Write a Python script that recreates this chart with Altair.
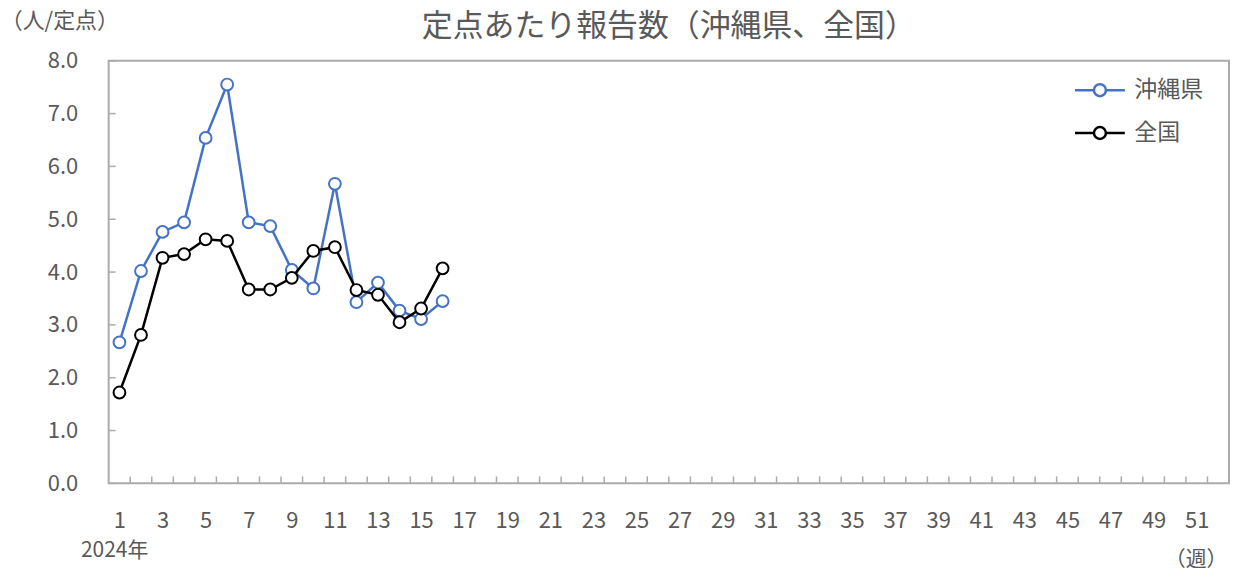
import altair as alt
import pandas as pd

# ---- data ----
weeks = list(range(1, 17))
okinawa = [2.67, 4.02, 4.76, 4.94, 6.54, 7.55, 4.94, 4.87, 4.04, 3.69, 5.67, 3.43, 3.80, 3.27, 3.11, 3.45]
national = [1.72, 2.81, 4.27, 4.34, 4.62, 4.59, 3.67, 3.67, 3.89, 4.40, 4.47, 3.66, 3.57, 3.05, 3.31, 4.07]
series_names = ["沖縄県", "全国"]
series_colors = ["#4472C4", "#000000"]
x_label_values = list(range(1, 52, 2))
y_tick_values = [0, 1, 2, 3, 4, 5, 6, 7, 8]
x_tick_positions = [k + 0.5 for k in range(1, 52)]

title_text = "定点あたり報告数（沖縄県、全国）"
y_unit_text = "（人/定点）"
x_unit_text = "（週）"
year_text = "2024年"

FONT = "Noto Sans CJK JP"
TXT = "#595959"
GRAY = "#ABABAB"
W, H = 1124, 424

df = pd.DataFrame({
    "week": weeks * 2,
    "value": okinawa + national,
    "series": [series_names[0]] * len(weeks) + [series_names[1]] * len(weeks),
})

xscale = alt.Scale(domain=[0.5, 52.5], nice=False, zero=False)
yscale = alt.Scale(domain=[0, 8], nice=False)
color_scale = alt.Scale(domain=series_names, range=series_colors)

x_axis = alt.Axis(values=x_label_values, ticks=False, tickSize=0, domain=False, grid=False,
                  labelFontSize=22, labelFont=FONT, labelColor=TXT, labelPadding=37,
                  labelBaseline="middle", title=None)
y_axis = alt.Axis(values=y_tick_values, format=".1f", ticks=False, tickSize=0, domain=False,
                  grid=False, labelFontSize=22, labelFont=FONT, labelColor=TXT,
                  labelPadding=31, title=None)


def X(field):
    return alt.X(field, scale=xscale, axis=x_axis)


def Y(field):
    return alt.Y(field, scale=yscale, axis=y_axis)


legend_path = ("M-1.25,0H-0.3M0.3,0H1.25"
               "M-0.3,0A0.3,0.3,0,1,0,0.3,0A0.3,0.3,0,1,0,-0.3,0Z")
legend = alt.Legend(
    title=None, orient="none", legendX=973, legendY=8,
    symbolType=legend_path, symbolSize=1600, symbolStrokeWidth=2.5,
    symbolFillColor="white",
    labelFont=FONT, labelFontSize=23, labelColor=TXT, labelOffset=13,
    rowPadding=9, padding=0,
)
color_enc = alt.Color("series:N", scale=color_scale, legend=legend)

layers = []
for name in series_names:
    sub = alt.Chart(df).transform_filter(alt.datum.series == name)
    line = sub.mark_line(strokeWidth=2.5).encode(
        x=X("week:Q"), y=Y("value:Q"), color=color_enc,
    )
    pts = sub.mark_point(filled=False, fill="white", size=140, strokeWidth=2,
                         opacity=1).encode(
        x=X("week:Q"), y=Y("value:Q"), color=color_enc,
    )
    layers += [line, pts]

xticks = alt.Chart(pd.DataFrame({"pos": x_tick_positions})).mark_rule(
    color=GRAY, strokeWidth=1.5).encode(
    x=X("pos:Q"), y=alt.value(H), y2=alt.value(H - 7))
yticks = alt.Chart(pd.DataFrame({"v": y_tick_values})).mark_rule(
    color=GRAY, strokeWidth=1.5).encode(
    y=Y("v:Q"), x=alt.value(0), x2=alt.value(7))


def label(text, x, y, size, align="center"):
    return alt.Chart(pd.DataFrame({"t": [text]})).mark_text(
        font=FONT, fontSize=size, color=TXT, align=align, baseline="middle"
    ).encode(text="t:N", x=alt.value(x), y=alt.value(y))


texts = [
    label(title_text, W / 2, -34, 31),
    label(y_unit_text, -49, -40, 22),
    label(year_text, 6, 492, 21),
    label(x_unit_text, 1091, 501, 21),
]

chart = alt.layer(xticks, yticks, *layers, *texts).properties(
    width=W, height=H,
    padding={"left": 101, "top": 52, "right": 2, "bottom": 88},
    autosize=alt.AutoSizeParams(type="none"),
).configure_view(stroke=GRAY, strokeWidth=2)

chart.save("out.html", embed_options={"renderer": "svg", "actions": False})
